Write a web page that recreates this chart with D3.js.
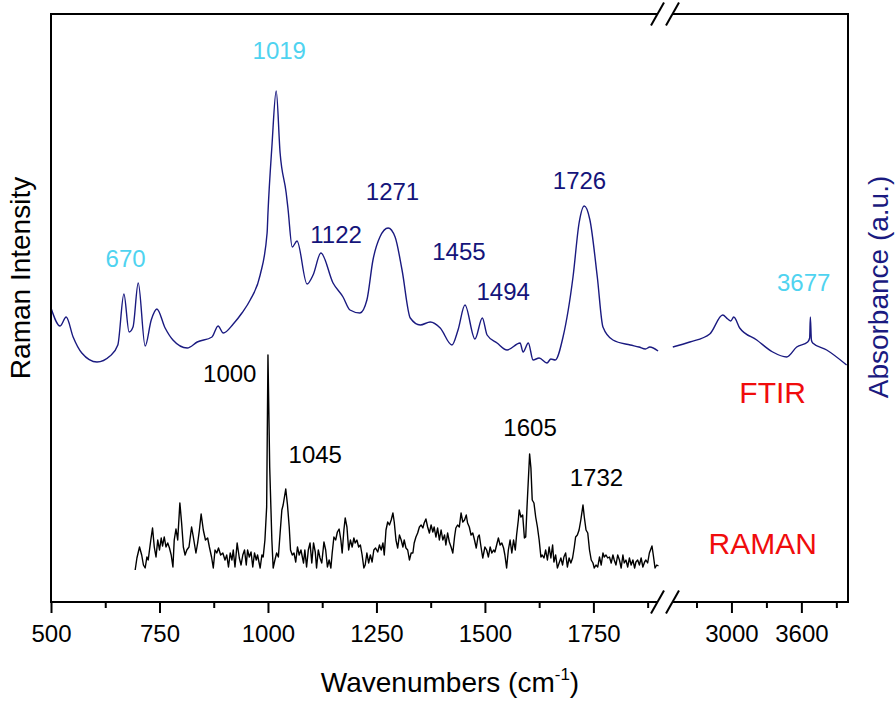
<!DOCTYPE html>
<html><head><meta charset="utf-8">
<script src="https://cdn.jsdelivr.net/npm/d3@7"></script>
<style>body{margin:0;background:#fff}svg{display:block}</style>
</head><body>
<svg id="chart" width="896" height="702"></svg>
<script>
// ---------- DATA ----------
const ramanWavenumber = [694,698,704,709,713,717,721,724,730,734,738,742,746,750,754,757,761,765,769,773,777,781,784,788,792,797,801,805,809,813,818,824,828,834,838,842,846,851,856,861,865,870,874,878,882,886,891,896,901,905,909,913,917,920,924,929,934,938,942,946,950,953,957,961,965,969,973,976,982,986,989,993,997,1000,1004,1009,1012,1016,1020,1024,1028,1032,1035,1041,1045,1049,1052,1056,1060,1064,1068,1072,1076,1082,1085,1089,1093,1097,1101,1105,1109,1112,1116,1120,1124,1129,1133,1137,1141,1145,1148,1152,1156,1160,1164,1168,1171,1175,1178,1182,1186,1190,1194,1198,1201,1205,1209,1213,1217,1221,1224,1228,1232,1236,1240,1244,1248,1253,1257,1261,1265,1268,1272,1276,1280,1284,1288,1291,1295,1299,1303,1307,1311,1314,1318,1322,1326,1330,1334,1337,1341,1345,1349,1353,1357,1360,1364,1368,1372,1376,1380,1383,1387,1391,1395,1399,1403,1407,1410,1414,1418,1422,1426,1430,1433,1437,1441,1445,1449,1453,1457,1460,1464,1468,1472,1476,1480,1484,1487,1491,1495,1500,1504,1508,1512,1516,1520,1523,1527,1531,1535,1539,1543,1546,1550,1554,1558,1562,1566,1570,1573,1577,1579,1583,1587,1591,1594,1597,1603,1606,1609,1613,1617,1621,1625,1629,1632,1636,1640,1644,1648,1652,1656,1659,1663,1667,1671,1675,1679,1682,1686,1690,1694,1698,1702,1706,1709,1713,1717,1721,1726,1729,1733,1737,1741,1745,1749,1752,1756,1760,1764,1768,1772,1775,1779,1783,1787,1791,1795,1798,1802,1806,1810,1814,1818,1821,1825,1829,1833,1837,1841,1845,1848,1852,1856,1860,1864,1868,1871,1875,1879,1885,1888,1892,1896,1900];
const ramanIntensity = [2,14,25,17,7,4,15,12,32,44,25,15,32,22,34,26,35,25,29,24,17,5,32,43,32,69,49,25,17,22,25,45,35,19,29,42,58,42,32,34,25,15,4,22,19,24,17,19,12,17,5,19,12,22,5,29,14,7,17,22,7,22,15,20,5,19,12,17,4,17,15,32,65,217,105,32,4,12,19,15,39,62,67,83,67,45,22,17,19,10,25,17,22,9,22,5,22,29,9,29,20,4,22,14,9,30,22,5,12,4,19,35,32,40,43,32,19,42,54,45,22,32,25,34,29,32,25,27,17,4,7,19,9,17,10,22,24,20,27,22,29,17,42,50,47,52,59,50,32,24,37,32,25,32,24,22,12,19,19,29,35,39,45,47,44,49,53,45,39,47,40,45,35,44,32,42,32,37,27,39,30,25,19,35,44,47,45,59,50,52,57,49,45,37,39,32,24,35,37,25,14,25,22,15,25,19,22,20,27,34,27,29,24,17,4,22,32,19,32,22,37,52,62,55,57,34,35,65,118,104,72,69,55,45,32,15,17,14,22,12,25,14,27,10,17,4,9,14,7,15,19,5,14,9,14,25,35,37,42,52,67,55,42,39,22,12,9,4,7,5,15,7,19,15,17,14,15,9,17,12,7,17,12,4,17,9,12,5,14,7,12,4,10,12,7,14,5,10,12,9,19,26,17,4,7,6];

const ftirLowWavenumber = [500,521,535,551,571,606,636,654,668,680,689,701,717,731,744,763,781,814,837,871,885,897,920,940,959,982,998,1000,1009,1019,1028,1042,1046,1056,1067,1090,1104,1122,1150,1173,1189,1212,1228,1242,1258,1277,1293,1309,1328,1351,1374,1397,1424,1438,1454,1477,1494,1505,1528,1551,1581,1588,1600,1611,1625,1643,1652,1662,1680,1703,1717,1729,1742,1759,1772,1795,1835,1855,1870,1880,1899];
const ftirLowAbsorbance = [72,54,63,43,27,18,24,35,86,48,53,97,34,60,71,52,40,32,38,43,54,47,56,67,80,105,147,167,233,289,227,187,172,133,139,96,105,127,97,83,70,67,80,120,143,152,143,110,62,55,58,52,35,50,75,41,62,45,37,30,37,28,37,20,22,17,21,20,43,103,157,174,160,103,53,40,35,33,31,33,29];
const ftirHighWavenumber = [2497,2643,2814,2925,2968,2994,3020,3071,3217,3354,3474,3560,3654,3671,3677,3686,3697,3817,3988];
const ftirHighAbsorbance = [33,38,46,65,61,59,63,52,40,28,23,33,38,42,63,40,37,30,15];

const lowMajorTicks = [500,750,1000,1250,1500,1750];
const lowMinorTicks = [625,875,1125,1375,1625,1875];
const highMajorTicks = [3000,3600];
const highMinorTicks = [2700,3300,3900];
const axisBreak = [1915, 2430];

const ftirLabels = [
  {text:"1019", wn:1026, v:321, c:"cyan"},
  {text:"670",  wn:672,  v:113, c:"cyan"},
  {text:"1122", wn:1157, v:137, c:"navy"},
  {text:"1271", wn:1287, v:180, c:"navy"},
  {text:"1455", wn:1440, v:120, c:"navy"},
  {text:"1494", wn:1542, v:80,  c:"navy"},
  {text:"1726", wn:1718, v:191, c:"navy"},
  {text:"3677", wn:3620, v:89,  c:"cyan"}
];
const ramanLabels = [
  {text:"1000", wn:912,  v:190},
  {text:"1045", wn:1109, v:109},
  {text:"1605", wn:1604, v:136},
  {text:"1732", wn:1757, v:86}
];
const seriesLabels = [
  {text:"FTIR",  wn:3354, v:-23, scale:"ftir"},
  {text:"RAMAN", wn:3268, v:18,  scale:"raman"}
];

// ---------- LAYOUT ----------
const L = 51, R = 848, T = 14, B = 602, BX = 665;
const COLORS = {navy:"#14147a", cyan:"#4fd3f0", red:"#f00c0c", line:"#1a1a80"};
const FONT = "'Liberation Sans', Arial, Helvetica, sans-serif";

const svg = d3.select("#chart").style("font-family", FONT);

const xLow = d3.scaleLinear().domain([500, axisBreak[0]]).range([L, BX]);
const xHigh = d3.scaleLinear().domain([axisBreak[1], 4000]).range([BX, R]);
const yRaman = d3.scaleLinear().domain([-30, 558]).range([B, T]);
const yFtir = d3.scaleLinear().domain([-222, 366]).range([B, T]);
const xPos = wn => wn <= axisBreak[0] ? xLow(wn) : xHigh(wn);

// ---------- CURVES ----------
const zip = (xs, ys) => xs.map((x, i) => [x, ys[i]]);
const ftirLine = d3.line().x(d => xPos(d[0])).y(d => yFtir(d[1])).curve(d3.curveMonotoneX);
const ramanLine = d3.line().x(d => xPos(d[0])).y(d => yRaman(d[1]));

svg.append("path").datum(zip(ftirLowWavenumber, ftirLowAbsorbance))
  .attr("d", ftirLine).attr("fill","none").attr("stroke", COLORS.line).attr("stroke-width",1.4);
svg.append("path").datum(zip(ftirHighWavenumber, ftirHighAbsorbance))
  .attr("d", ftirLine).attr("fill","none").attr("stroke", COLORS.line).attr("stroke-width",1.4);
svg.append("path").datum(zip(ramanWavenumber, ramanIntensity))
  .attr("d", ramanLine).attr("fill","none").attr("stroke","#000").attr("stroke-width",1.4)
  .attr("stroke-linejoin","round");

// ---------- AXES ----------
function addAxis(scale, major, minor) {
  const gMaj = svg.append("g").attr("transform", `translate(0,${B})`)
    .call(d3.axisBottom(scale).tickValues(major).tickSize(11).tickPadding(12).tickFormat(d3.format("d")));
  gMaj.select(".domain").remove();
  gMaj.selectAll("line").attr("stroke","#000").attr("stroke-width",2);
  gMaj.selectAll("text").attr("font-size",24).attr("font-family",FONT).attr("fill","#000");
  const gMin = svg.append("g").attr("transform", `translate(0,${B})`)
    .call(d3.axisBottom(scale).tickValues(minor).tickSize(6).tickFormat(""));
  gMin.select(".domain").remove();
  gMin.selectAll("line").attr("stroke","#000").attr("stroke-width",2);
}
addAxis(xLow, lowMajorTicks, lowMinorTicks);
addAxis(xHigh, highMajorTicks, highMinorTicks);

// frame with break gap
const frame = svg.append("g").attr("stroke","#000").attr("stroke-width",2).attr("fill","none");
const gapL = 657, gapR = 672;
[B, T].forEach(y => {
  frame.append("line").attr("x1", L-1).attr("x2", gapL).attr("y1", y).attr("y2", y);
  frame.append("line").attr("x1", gapR).attr("x2", R+1).attr("y1", y).attr("y2", y);
  [657.5, 672.5].forEach(cx => {
    svg.append("line").attr("x1", cx-6.5).attr("y1", y+11.5).attr("x2", cx+6.5).attr("y2", y-11.5)
      .attr("stroke","#000").attr("stroke-width",2);
  });
});
frame.append("line").attr("x1", L).attr("x2", L).attr("y1", T).attr("y2", B);
frame.append("line").attr("x1", R).attr("x2", R).attr("y1", T).attr("y2", B);

// ---------- TEXT ----------
const xt = svg.append("text").attr("x", 450).attr("y", 692).attr("text-anchor","middle")
  .attr("font-size", 28).attr("fill","#000");
xt.append("tspan").text("Wavenumbers (cm");
xt.append("tspan").text("-1").attr("font-size",17).attr("dy",-12);
xt.append("tspan").text(")").attr("dy",12);

svg.append("text").attr("transform","translate(30,278) rotate(-90)").attr("text-anchor","middle")
  .attr("font-size",28).attr("fill","#000").text("Raman Intensity");
svg.append("text").attr("transform","translate(888,287) rotate(-90)").attr("text-anchor","middle")
  .attr("font-size",28).attr("fill",COLORS.line).text("Absorbance (a.u.)");

ftirLabels.forEach(d => {
  svg.append("text").attr("x", xPos(d.wn)).attr("y", yFtir(d.v)).attr("text-anchor","middle")
    .attr("font-size",24).attr("fill", COLORS[d.c]).text(d.text);
});
ramanLabels.forEach(d => {
  svg.append("text").attr("x", xPos(d.wn)).attr("y", yRaman(d.v)).attr("text-anchor","middle")
    .attr("font-size",24).attr("fill","#000").text(d.text);
});
seriesLabels.forEach(d => {
  const y = d.scale === "ftir" ? yFtir(d.v) : yRaman(d.v);
  svg.append("text").attr("x", xPos(d.wn)).attr("y", y).attr("text-anchor","middle")
    .attr("font-size",30).attr("fill", COLORS.red).text(d.text);
});
</script>
</body></html>
